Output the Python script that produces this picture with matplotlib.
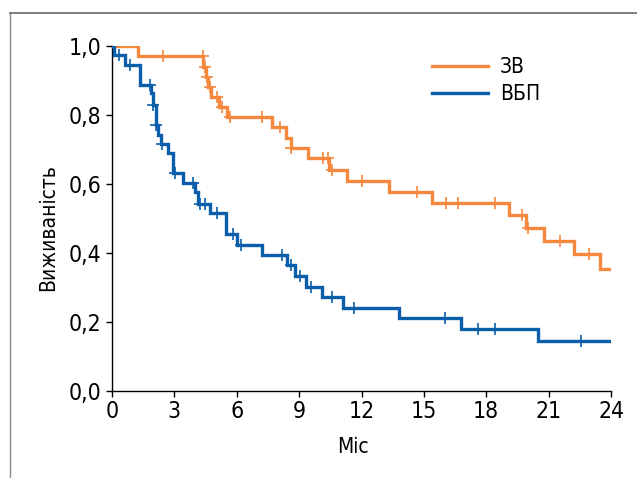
import numpy as np
import matplotlib
matplotlib.use("Agg")
import matplotlib.pyplot as plt
from matplotlib.lines import Line2D

plt.rcParams['font.family'] = ['DejaVu Sans']
plt.rcParams['font.stretch'] = 'condensed'

# ---- data -------------------------------------------------------------
series_names = ["ЗВ", "ВБП"]

# ЗВ (overall survival): step times (months) and survival after each step
zv_times = [0, 1.25, 4.39, 4.50, 4.60, 4.76, 5.14, 5.54, 7.68, 8.37, 8.60,
            9.44, 10.45, 11.28, 13.32, 15.37, 19.09, 19.90, 20.78, 22.23, 23.49]
zv_surv = [1.0, 0.971, 0.940, 0.911, 0.882, 0.853, 0.824, 0.795, 0.764, 0.734, 0.705,
           0.674, 0.642, 0.610, 0.578, 0.544, 0.509, 0.472, 0.436, 0.396, 0.355]
zv_end = 24.0
zv_censored = [2.45, 4.36, 4.47, 4.56, 4.70, 5.03, 5.30, 5.67, 7.20, 8.08, 8.63,
               10.13, 10.37, 10.56, 12.00, 14.65, 16.06, 16.62, 18.43, 19.73,
               20.03, 21.54, 22.95]

# ВБП (progression-free survival)
vbp_times = [0, 0.10, 0.61, 1.36, 1.89, 1.97, 2.13, 2.23, 2.38, 2.71, 2.95, 3.43,
             3.99, 4.15, 4.71, 5.47, 6.02, 7.23, 8.42, 8.82, 9.31, 10.08, 11.12,
             13.81, 16.80, 20.49]
vbp_surv = [1.0, 0.974, 0.945, 0.887, 0.863, 0.829, 0.771, 0.742, 0.715, 0.689, 0.631,
            0.604, 0.578, 0.542, 0.515, 0.454, 0.423, 0.394, 0.365, 0.333, 0.302,
            0.273, 0.242, 0.212, 0.181, 0.146]
vbp_end = 23.94
vbp_censored = [0.34, 0.85, 1.81, 1.975, 2.135, 2.385, 3.03, 3.91, 4.23, 4.47, 5.06,
                5.83, 6.19, 8.20, 8.63, 9.04, 9.57, 10.60, 11.65, 16.00, 17.61,
                18.43, 22.58]

x_ticks = [0, 3, 6, 9, 12, 15, 18, 21, 24]
y_ticks = [0.0, 0.2, 0.4, 0.6, 0.8, 1.0]
y_ticklabels = ["0,0", "0,2", "0,4", "0,6", "0,8", "1,0"]
x_label = "Міс"
y_label = "Виживаність"

colors = ["#F5883D", "#0B5EAA"]

# ---- figure -------------------------------------------------------------
W, H = 637, 478
fig = plt.figure(figsize=(W / 100, H / 100), dpi=100)
ax = fig.add_axes([112 / W, 1 - 391 / H, 499 / W, 345 / H])


def surv_at(times, surv, t):
    idx = np.searchsorted(np.asarray(times), t, side="right") - 1
    return np.asarray(surv)[idx]


series = [
    (zv_times, zv_surv, zv_end, zv_censored),
    (vbp_times, vbp_surv, vbp_end, vbp_censored),
]
handles = []
for (t, s, end, cens), name, c in zip(series, series_names, colors):
    tt = list(t) + [end]
    ss = list(s) + [s[-1]]
    h, = ax.step(tt, ss, where="post", color=c, lw=2.4, label=name,
                 solid_joinstyle="miter", zorder=3)
    handles.append(h)
    cy = surv_at(t, s, np.asarray(cens))
    ax.plot(cens, cy, linestyle="none", marker="+", markersize=9,
            markeredgewidth=1.2, color=c, zorder=4)

ax.set_xlim(0, 24)
ax.set_ylim(0, 1.0)
ax.set_xticks(x_ticks)
ax.set_xticklabels([str(v) for v in x_ticks])
ax.set_yticks(y_ticks)
ax.set_yticklabels(y_ticklabels)

for side in ["top", "right"]:
    ax.spines[side].set_visible(False)
for side in ["left", "bottom"]:
    ax.spines[side].set_color("black")
    ax.spines[side].set_linewidth(1.0)

ax.tick_params(axis="both", direction="out", length=4.5, width=1.0,
               color="black", labelsize=16.5, labelcolor="black")
ax.tick_params(axis="y", pad=3)
ax.tick_params(axis="x", pad=2)

ax.set_xlabel(x_label, fontsize=15, va="center")
ax.xaxis.set_label_coords((353 - 112) / 499, (391 - 447) / 345)
ax.set_ylabel(y_label, fontsize=15, va="center")
ax.yaxis.set_label_coords((48 - 112) / 499, (391 - 228) / 345)

leg = ax.legend(handles=handles, labels=series_names, loc="upper left",
                bbox_to_anchor=(432 / W, 1 - 57 / H), bbox_transform=fig.transFigure,
                frameon=False, fontsize=15, handlelength=2.7, handletextpad=0.55,
                borderpad=0, borderaxespad=0, labelspacing=0.35)

# outer frame (partial box as in the source)
fig.add_artist(Line2D([10 / W, 10 / W], [0, 1 - 13 / H], transform=fig.transFigure,
                      color="#8a8a8a", lw=1.0))
fig.add_artist(Line2D([10 / W, 1], [1 - 13 / H, 1 - 13 / H], transform=fig.transFigure,
                      color="#6a6a6a", lw=1.2))

fig.savefig("out.png", dpi=100)
